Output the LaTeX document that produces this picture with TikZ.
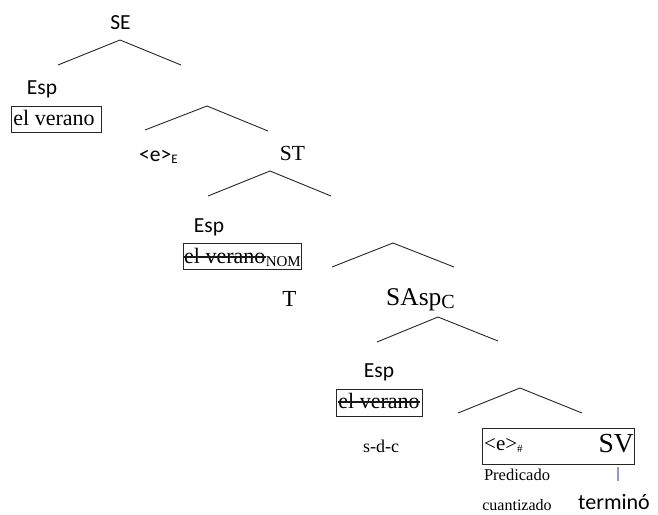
\documentclass[tikz,border=0pt]{standalone}
\usepackage{fontspec}
\setmainfont{Liberation Serif}
\newfontfamily\calfnt{Carlito}
\newcommand{\SansBig}{\calfnt\fontsize{21.5}{24}\selectfont}
\newcommand{\SerBig}{\fontsize{22}{24}\selectfont}
\begin{document}
\begin{tikzpicture}[x=1pt,y=-1pt,
  br/.style={line width=0.9pt, black!85},
  tx/.style={inner sep=0pt, anchor=base},
  bx/.style={draw, line width=1pt, black!85, inner sep=0pt},
  strike/.style={line width=1.1pt, black!90},
  vl/.style={line width=1.2pt, color={rgb,255:red,150;green,150;blue,200}}]
\useasboundingbox (0,0) rectangle (658,514);
% --- level 1
\node[tx,font=\SansBig] (se) at (120.5,29) {SE};
\coordinate (a1) at (120,40); \coordinate (l1) at (58,65); \coordinate (r1) at (181,65);
\draw[br] (l1) -- (a1) -- (r1);
\node[tx,font=\SansBig] (esp1) at (42,94) {Esp};
\node[bx,minimum width=90pt,minimum height=26pt] (box1) at (56,119) {};
\node[tx,font=\SerBig] (ev1) at (54,125) {el verano};
% --- level 2
\coordinate (a2) at (207,106); \coordinate (l2) at (145,130); \coordinate (r2) at (268,131);
\draw[br] (l2) -- (a2) -- (r2);
\node[tx,anchor=base west,font=\SansBig] (eE) at (139,161) {<e>\raisebox{-2.5pt}{\fontsize{13}{13}\selectfont E}};
\node[tx,font=\fontsize{21.5}{24}\selectfont] (st) at (292.5,160) {ST};
% --- level 3
\coordinate (a3) at (270,171); \coordinate (l3) at (208,196); \coordinate (r3) at (331,196);
\draw[br] (l3) -- (a3) -- (r3);
\node[tx,font=\SansBig] (esp2) at (209,232) {Esp};
\node[bx,minimum width=118pt,minimum height=26pt] (box2) at (242,256) {};
\node[tx,anchor=base west,font=\SerBig] (ev2) at (184,263) {el verano};
\node[tx,anchor=base west,font=\fontsize{15}{15}\selectfont] (nom) at ([yshift=-3pt]ev2.base east) {NOM};
\draw[strike] ([yshift=6pt]ev2.base west) -- ([yshift=6pt]ev2.base east);
\coordinate (a4) at (393,243); \coordinate (l4) at (332,267); \coordinate (r4) at (454,267);
\draw[br] (l4) -- (a4) -- (r4);
\node[tx,font=\fontsize{23}{26}\selectfont] (t) at (289.5,306) {T};
\node[tx,anchor=base west,font=\fontsize{25.5}{28}\selectfont] (saspc) at (386,305) {SAsp\raisebox{-3pt}{\fontsize{20}{20}\selectfont C}};
% --- level 4
\coordinate (a5) at (438,317); \coordinate (l5) at (377,342); \coordinate (r5) at (498,341);
\draw[br] (l5) -- (a5) -- (r5);
\node[tx,font=\SansBig] (esp3) at (379,377) {Esp};
\node[bx,minimum width=86pt,minimum height=27pt] (box3) at (379,402.5) {};
\node[tx,font=\SerBig] (ev3) at (379,408) {el verano};
\draw[strike] ([yshift=6pt]ev3.base west) -- ([yshift=6pt]ev3.base east);
\node[tx,font=\fontsize{18}{20}\selectfont] (sdc) at (381,452) {s-d-c};
\coordinate (a6) at (520,388); \coordinate (l6) at (458,413); \coordinate (r6) at (582,413);
\draw[br] (l6) -- (a6) -- (r6);
\node[bx,minimum width=152pt,minimum height=36pt] (box4) at (558,446) {};
\node[tx,anchor=base west,font=\fontsize{21}{22}\selectfont] (eh) at (484,450) {<e>\raisebox{-2pt}{\fontsize{11}{11}\selectfont \#}};
\node[tx,anchor=base east,font=\fontsize{27.5}{30}\selectfont] (sv) at (634,452) {SV};
\coordinate (v1) at (618,467); \coordinate (v2) at (618,481);
\draw[vl] (v1) -- (v2);
\node[tx,font=\fontsize{16.5}{18}\selectfont] (pred) at (517,480) {Predicado};
\node[tx,font=\fontsize{16}{18}\selectfont] (cuan) at (517,510) {cuantizado};
\node[tx,font=\calfnt\fontsize{22}{24}\selectfont] (term) at (614,509) {terminó};
\end{tikzpicture}
\end{document}
